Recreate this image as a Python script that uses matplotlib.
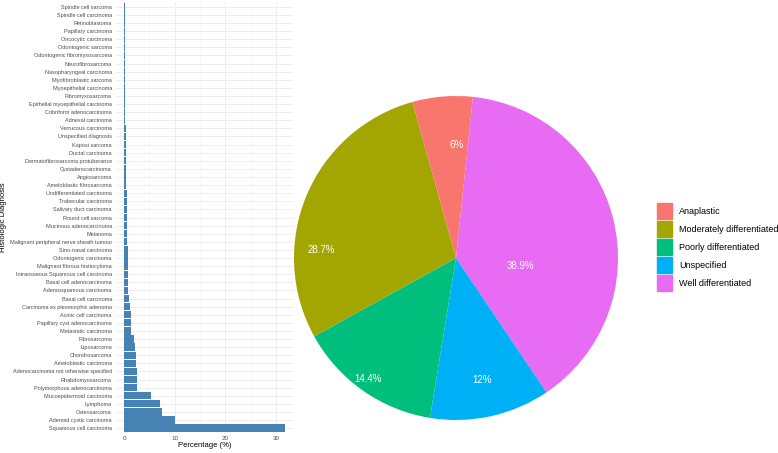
import matplotlib.pyplot as plt
import matplotlib.patches as mpatches
import numpy as np

plt.rcParams['font.family'] = ['Liberation Sans', 'DejaVu Sans']

# histologic diagnosis, top of chart first
diagnoses = [
    "Spindle cell sarcoma", "Spindle cell carcinoma", "Retinoblastoma",
    "Papillary carcinoma", "Oncocytic carcinoma", "Odontogenic sarcoma",
    "Odontogenic fibromyxosarcoma", "Neurofibrosarcoma",
    "Nasopharyngeal carcinoma", "Myofibroblastic sarcoma",
    "Myoepithelial carcinoma", "Fibromyxosarcoma",
    "Epithelial myoepithelial carcinoma", "Cribriform adenocarcinoma",
    "Adnexal carcinoma", "Verrucous carcinoma", "Unspecified diagnosis",
    "Kaposi sarcoma", "Ductal carcinoma", "Dermatofibrosarcoma protuberance",
    "Cystadenocarcinoma", "Angiosarcoma", "Ameloblastic fibrosarcoma",
    "Undifferentiated carcinoma", "Trabecular carcinoma",
    "Salivary duct carcinoma", "Round cell sarcoma",
    "Mucinous adenocarcinoma", "Melanoma",
    "Malignant peripheral nerve sheath tumour", "Sino-nasal carcinoma",
    "Odontogenic carcinoma", "Malignant fibrous histiocytoma",
    "Intraosseous Squamous cell carcinoma", "Basal cell adenocarcinoma",
    "Adenosquamous carcinoma", "Basal cell carcinoma",
    "Carcinoma ex pleomorphic adenoma", "Acinic cell carcinoma",
    "Papillary cyst adenocarcinoma", "Metastatic carcinoma", "Fibrosarcoma",
    "Liposarcoma", "Chondrosarcoma", "Ameloblastic carcinoma",
    "Adenocarcinoma not otherwise specified", "Rhabdomyosarcoma",
    "Polymorphous adenocarcinoma", "Mucoepidermoid carcinoma", "Lymphoma",
    "Osteosarcoma", "Adenoid cystic carcinoma", "Squamous cell carcinoma",
]
percent = [
    0.13, 0.13, 0.13, 0.13, 0.13, 0.13, 0.13, 0.13, 0.13, 0.13, 0.13, 0.13,
    0.13, 0.13, 0.13, 0.3, 0.3, 0.3, 0.3, 0.3, 0.3, 0.3, 0.3,
    0.55, 0.55, 0.55, 0.55, 0.55, 0.55, 0.55,
    0.8, 0.8, 0.8, 0.8, 0.8, 0.8,
    0.92, 1.19, 1.32, 1.45, 1.45, 1.91, 2.1, 2.3, 2.37, 2.57, 2.63, 2.63,
    5.4, 7.1, 7.5, 10.0, 31.8,
]

grades = ["Anaplastic", "Moderately differentiated", "Poorly differentiated",
          "Unspecified", "Well differentiated"]
grade_pct = [6.0, 28.7, 14.4, 12.0, 38.9]
grade_labels = ["6%", "28.7%", "14.4%", "12%", "38.9%"]
grade_colors = ["#F8766D", "#A3A500", "#00BF7D", "#00B0F6", "#E76BF3"]

# where the percentage labels sit: angle clockwise from 12 o'clock, radius fraction
label_angle = [0.5, 273.4, 216.0, 168.0, 97.0]
label_radius = [0.70, 0.83, 0.92, 0.77, 0.40]

fig = plt.figure(figsize=(7.78, 4.53), dpi=100)

# ---- bar chart
ax = fig.add_axes([116 / 778, 1 - 433 / 453, 177 / 778, 431 / 453])
n = len(diagnoses)
ypos = np.arange(n)[::-1]
ax.barh(ypos, percent, height=0.9, color="#4682B4")
ax.set_yticks(ypos)
ax.set_yticklabels(diagnoses, fontsize=4, color="#4d4d4d")
ax.set_xticks([0, 10, 20, 30])
ax.set_xticks([5, 15, 25], minor=True)
ax.tick_params(axis="x", labelsize=4.5, labelcolor="#4d4d4d", length=0, pad=2)
ax.tick_params(axis="y", length=0, pad=3)
ax.tick_params(which="minor", length=0)
ax.set_xlim(-1.59, 33.39)
ax.set_ylim(-0.6, n - 0.4)
ax.grid(True, which="major", color="#ebebeb", linewidth=0.6)
ax.grid(True, which="minor", axis="x", color="#f3f3f3", linewidth=0.4)
ax.set_axisbelow(True)
for s in ax.spines.values():
    s.set_visible(False)
ax.set_xlabel("Percentage (%)", fontsize=5.5, labelpad=1)
fig.text(4 / 778, 1 - 217 / 453, "Histologic Diagnosis", rotation=90,
         fontsize=5.5, ha="center", va="center")

# ---- pie chart (clockwise, slightly rotated start, last level first)
cx, cy, R = 456, 258, 162
pax = fig.add_axes([(cx - R) / 778, 1 - (cy + R) / 453, 2 * R / 778, 2 * R / 453])
order = [4, 3, 2, 1, 0]
vals = [grade_pct[i] for i in order]
cols = [grade_colors[i] for i in order]
pax.pie(vals, colors=cols, startangle=90 - 6, counterclock=False,
        radius=1, wedgeprops=dict(linewidth=0))
for lab, a, r in zip(grade_labels, label_angle, label_radius):
    t = np.deg2rad(a)
    pax.text(r * np.sin(t), r * np.cos(t), lab,
             color="white", fontsize=7, ha="center", va="center")
pax.set_xlim(-1, 1)
pax.set_ylim(-1, 1)
pax.set_aspect("equal")
pax.axis("off")

handles = [mpatches.Patch(color=c, label=g) for g, c in zip(grades, grade_colors)]
fig.legend(handles=handles, loc="center left", bbox_to_anchor=(657 / 778, 1 - 247 / 453),
           frameon=False, fontsize=6.5, handlelength=1.67, handleheight=2.35,
           handletextpad=0.8, labelspacing=0.22, borderaxespad=0, borderpad=0)

fig.savefig("out.png", dpi=100)
